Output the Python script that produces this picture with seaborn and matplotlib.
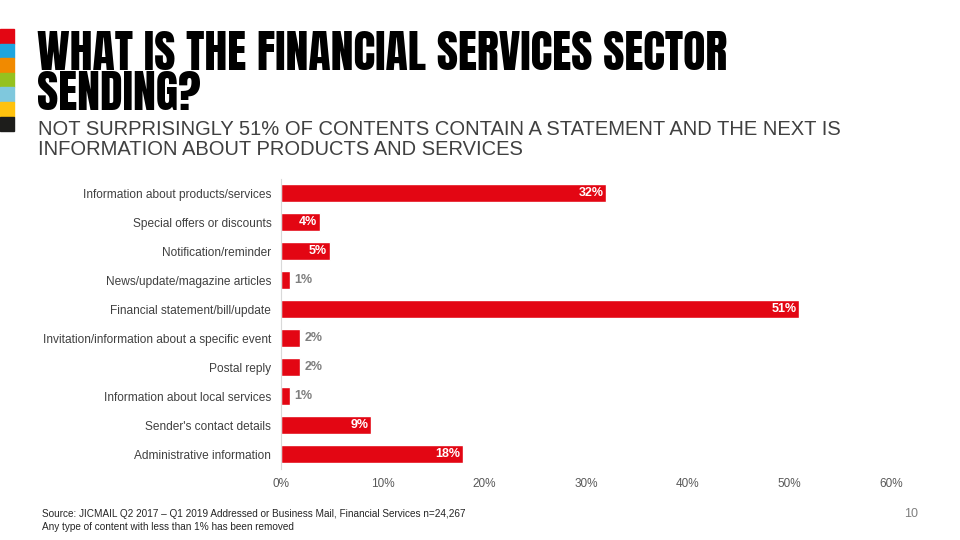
import matplotlib
matplotlib.use('Agg')
import matplotlib.pyplot as plt
import matplotlib.font_manager as fm
import seaborn as sns
import pandas as pd

# Data
categories = ['Information about products/services', 'Special offers or discounts',
              'Notification/reminder', 'News/update/magazine articles',
              'Financial statement/bill/update', 'Invitation/information about a specific event',
              'Postal reply', 'Information about local services',
              "Sender's contact details", 'Administrative information']
values = [32, 3.8, 4.8, 0.9, 51, 1.9, 1.9, 0.9, 8.9, 17.9]
value_labels = ['32%', '4%', '5%', '1%', '51%', '2%', '2%', '1%', '9%', '18%']
xticks = [0, 10, 20, 30, 40, 50, 60]
strip_colors = ['#E30613', '#1EA5DF', '#F18A00', '#95C11F', '#7FC8DD', '#FFC20E', '#1D1D1B']

title_lines = ['WHAT IS THE FINANCIAL SERVICES SECTOR', 'SENDING?']
subtitle = ('NOT SURPRISINGLY 51% OF CONTENTS CONTAIN A STATEMENT AND THE NEXT IS\n'
            'INFORMATION ABOUT PRODUCTS AND SERVICES')
source = ('Source: JICMAIL Q2 2017 \u2013 Q1 2019 Addressed or Business Mail, Financial Services n=24,267\n'
          'Any type of content with less than 1% has been removed')

RED = '#E30613'

sns.set_style('white')
plt.rcParams['font.family'] = ['Liberation Sans', 'DejaVu Sans']

# pick a heavy condensed face for the headline if one is around
names = {f.name for f in fm.fontManager.ttflist}
title_font = dict(family='DejaVu Sans', weight='bold', fontsize=20)
for fam, size in [('Anton', 33), ('Bebas Neue', 40), ('League Gothic', 42), ('Oswald', 31)]:
    if fam in names:
        title_font = dict(family=fam, weight='bold', fontsize=size)
        break

df = pd.DataFrame({'category': categories, 'value': values})

fig = plt.figure(figsize=(9.6, 5.4), dpi=100)
ax = fig.add_axes([0.2927, 0.1324, 0.6354, 0.537])

sns.barplot(data=df, x='value', y='category', color=RED, width=0.6,
            saturation=1, ax=ax)

ax.set_xlim(0, 60)
ax.set_xticks(xticks)
ax.set_xticklabels([f'{t}%' for t in xticks], color='#595959', fontsize=8.5)
ax.tick_params(axis='y', labelsize=8.6, labelcolor='#404040', length=0, pad=7)
ax.tick_params(axis='x', length=0, pad=7)
ax.set_xlabel('')
ax.set_ylabel('')
for s in ['top', 'right', 'bottom']:
    ax.spines[s].set_visible(False)
ax.spines['left'].set_color('#D9D9D9')
ax.spines['left'].set_linewidth(0.8)

for i, (v, lab) in enumerate(zip(values, value_labels)):
    if v >= 3:
        ax.text(v - 0.3, i, lab, ha='right', va='center', color='white',
                fontsize=9, fontweight='bold')
    else:
        ax.text(v + 0.4, i, lab, ha='left', va='center', color='#7F7F7F',
                fontsize=9, fontweight='bold')

# coloured strip on the left
for k, c in enumerate(strip_colors):
    fig.patches.append(plt.Rectangle((0, 1 - (29 + (k + 1) * 14.6) / 540), 14 / 960,
                                     14.6 / 540, transform=fig.transFigure,
                                     color=c, zorder=5))

for line, base in zip(title_lines, [70, 110]):
    fig.text(37 / 960, 1 - base / 540, line, ha='left', va='baseline',
             color='black', **title_font)
fig.text(38 / 960, 1 - 120 / 540, subtitle, ha='left', va='top', fontsize=14.5,
         color='#404040', linespacing=1.05)
fig.text(42 / 960, 1 - 509 / 540, source, ha='left', va='top', fontsize=7.2,
         color='#262626', linespacing=1.4)
fig.text(918 / 960, 1 - 514 / 540, '10', ha='right', va='center', fontsize=9,
         color='#7F7F7F')

fig.savefig('out.png', dpi=100)
